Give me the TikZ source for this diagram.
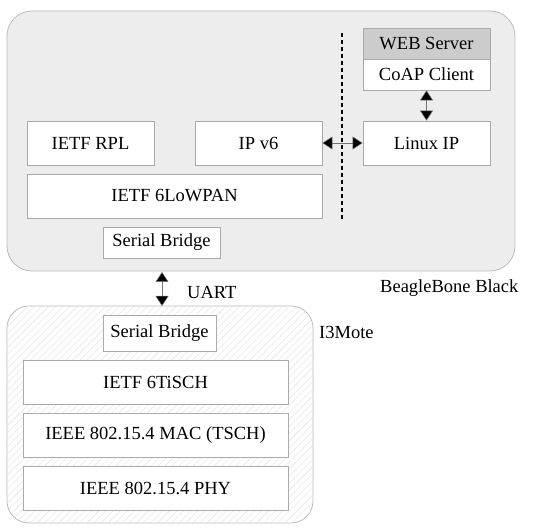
\documentclass[tikz,border=0pt]{standalone}
\usepackage{fontspec}
\setmainfont{Liberation Serif}
\usetikzlibrary{arrows.meta,patterns.meta}
\definecolor{boxline}{HTML}{AAAAAA}
\definecolor{contline}{HTML}{BBBBBB}
\begin{document}
\begin{tikzpicture}[x=1pt,y=-1pt,
  layer/.style={draw=boxline,line width=0.8pt,fill=white,inner sep=0pt,font=\fontsize{18.5}{22}\selectfont},
  lbl/.style={font=\fontsize{18.5}{22}\selectfont,inner sep=0pt},
  biarrow/.style={{Triangle[length=10pt,width=13pt,fill=black]}-{Triangle[length=10pt,width=13pt,fill=black]},line width=0.5pt,draw=black!55}
]
\useasboundingbox (0,0) rectangle (550,532);
% containers
\draw[draw=contline,line width=0.8pt,fill=black!7,rounded corners=25pt] (7,11) rectangle (515,271);
\draw[draw=contline,line width=0.8pt,fill=white,rounded corners=22pt] (7,306) rectangle (313,523);
\fill[pattern={Lines[angle=45,distance=5pt,line width=0.4pt]},pattern color=black!12,rounded corners=22pt] (7,306) rectangle (313,523);
% top layers
\node[layer,fill=black!20,minimum width=127pt,minimum height=31pt] (web) at (426.5,43.5) {WEB Server};
\node[layer,minimum width=127pt,minimum height=31pt] (coap) at (426.5,74.5) {CoAP Client};
\node[layer,minimum width=127pt,minimum height=44pt] (linux) at (426.5,143) {Linux IP};
\node[layer,minimum width=127pt,minimum height=44pt] (rpl) at (90.5,143) {IETF RPL};
\node[layer,minimum width=127pt,minimum height=44pt] (ipv6) at (258.5,143) {IP v6};
\node[layer,minimum width=295pt,minimum height=44pt] (lowpan) at (174.5,196) {IETF 6LoWPAN};
\node[layer,minimum width=117pt,minimum height=31pt] (sbtop) at (161.5,242.5) {Serial Bridge};
\coordinate (dtop) at (342,33);
\coordinate (dbot) at (342,219);
\draw[line width=2pt,dash pattern=on 4pt off 3pt] (dtop) -- (dbot);
% bottom layers
\node[layer,minimum width=113pt,minimum height=36pt] (sbbot) at (159.5,333) {Serial Bridge};
\node[layer,minimum width=265pt,minimum height=44pt] (tisch) at (155.5,382) {IETF 6TiSCH};
\node[layer,minimum width=265pt,minimum height=44pt] (mac) at (155.5,435) {IEEE 802.15.4 MAC (TSCH)};
\node[layer,minimum width=265pt,minimum height=44pt] (phy) at (155.5,488) {IEEE 802.15.4 PHY};
% arrows
\draw[biarrow] (ipv6.east) -- (linux.west);
\draw[biarrow] (coap.south) -- (linux.north);
\coordinate (ua) at (162,272);
\coordinate (ub) at (162,306);
\draw[biarrow] (ua) -- (ub);
% labels
\node[lbl,anchor=west] (uart) at (187,292) {UART};
\node[lbl,anchor=west] (bbb) at (380,288) {BeagleBone Black};
\node[lbl,anchor=west] (mote) at (319,332) {I3Mote};
\end{tikzpicture}
\end{document}
